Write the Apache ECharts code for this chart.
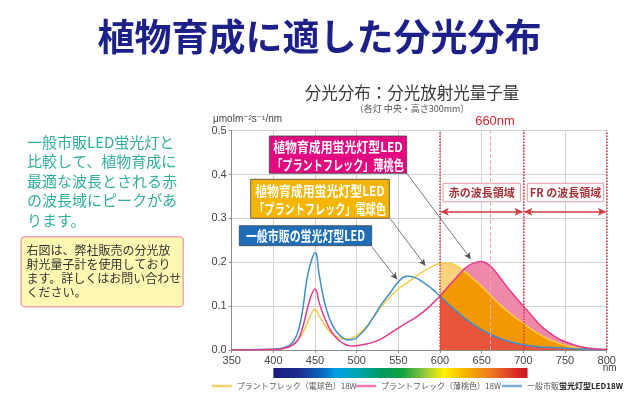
<!DOCTYPE html>
<html><head><meta charset="utf-8">
<script src="https://cdn.jsdelivr.net/npm/echarts@6/dist/echarts.min.js"></script>
<style>html,body{margin:0;padding:0;background:#fff}#c{width:639px;height:408px}</style>
</head><body><div id="c"></div>
<script>
// ---------- data ----------
const wavelengths = [350,360,370,380,390,400,410,415,420,425,430,435,440,445,450,455,460,465,470,475,480,485,490,495,500,510,520,530,540,550,560,570,580,590,600,610,620,630,640,650,660,670,680,690,700,710,720,730,740,750,760,770,780,790,800];
// プラントフレック（電球色）
const bulbColor = [0,0,0,0,0.001,0.001,0.003,0.005,0.009,0.015,0.025,0.038,0.058,0.08,0.093,0.077,0.062,0.048,0.038,0.031,0.027,0.025,0.025,0.028,0.033,0.05,0.074,0.1,0.121,0.139,0.153,0.166,0.179,0.19,0.197,0.198,0.192,0.178,0.162,0.145,0.126,0.107,0.09,0.075,0.061,0.047,0.035,0.025,0.017,0.011,0.007,0.004,0.003,0.002,0.001];
// プラントフレック（薄桃色）
const peachColor = [0,0,0,0,0.001,0.001,0.003,0.005,0.008,0.014,0.025,0.05,0.088,0.122,0.139,0.108,0.08,0.058,0.041,0.029,0.02,0.014,0.01,0.009,0.01,0.013,0.018,0.026,0.038,0.05,0.062,0.073,0.087,0.104,0.123,0.145,0.166,0.186,0.198,0.201,0.192,0.17,0.145,0.122,0.1,0.078,0.057,0.041,0.028,0.019,0.012,0.007,0.004,0.002,0.001];
// 一般市販蛍光灯型LED
const generalLED = [0,0,0,0.001,0.001,0.002,0.004,0.007,0.012,0.022,0.045,0.09,0.158,0.2,0.222,0.172,0.12,0.085,0.06,0.044,0.033,0.026,0.023,0.024,0.028,0.047,0.075,0.105,0.13,0.155,0.168,0.165,0.154,0.14,0.123,0.105,0.088,0.072,0.058,0.046,0.036,0.028,0.021,0.016,0.012,0.009,0.007,0.006,0.005,0.004,0.003,0.002,0.002,0.001,0.001];
const seriesNames = ['プラントフレック（電球色）18W','プラントフレック（薄桃色）18W','一般市販蛍光灯型LED18W'];
const redRegion = [600, 700];
const frRegion = [700, 800];
const peakLine = 660;
const xRange = [350, 800, 50];
const yRange = [0, 0.5, 0.1];
const spectrumNm = [400,430,460,475,500,530,555,580,605,630,660,690,705];
const spectrumColors = ['#1B1C80','#1B2E8E','#0B6CC0','#00A0E6','#00A5B5','#009B5E','#12A040','#8CC63F','#FFF100','#F6B300','#EE7B1F','#D9312A','#C8161E'];

// ---------- helpers ----------
const FONT = "'Noto Sans CJK JP', 'Liberation Sans', sans-serif";
const NUMFONT = "'Liberation Sans Narrow', 'Liberation Sans', Arial, sans-serif";
const pairs = (arr, from) => wavelengths.map((w, i) => [w, arr[i]]).filter(p => p[0] >= from);
const minArr = bulbColor.map((v, i) => Math.min(v, peachColor[i]));

const chart = echarts.init(document.getElementById('c'), null, {renderer: 'canvas'});

function fillSeries(arr, color) {
  return {type: 'line', data: pairs(arr, redRegion[0]), smooth: true, symbol: 'none', silent: true,
    lineStyle: {width: 0}, areaStyle: {color: color, opacity: 1}, z: 1};
}

const legendBase = {icon: 'rect', itemWidth: 20, itemHeight: 2.5, itemGap: 0, padding: 0, top: 382,
  selectedMode: false, textStyle: {fontSize: 8, color: '#555', fontFamily: FONT}};

const option = {
  animation: false,
  grid: {left: 231.7, top: 130.7, right: 32.3, bottom: 58},
  xAxis: {type: 'value', min: xRange[0], max: xRange[1], interval: xRange[2],
    axisLine: {lineStyle: {color: '#8c8c8c'}}, axisTick: {show: true, length: 3, lineStyle: {color: '#8c8c8c'}},
    axisLabel: {fontSize: 11, color: '#444', margin: 5, fontFamily: NUMFONT},
    splitLine: {show: true, lineStyle: {color: '#d2d2d2'}}},
  yAxis: {type: 'value', min: yRange[0], max: yRange[1], interval: yRange[2],
    axisLine: {show: true, lineStyle: {color: '#8c8c8c'}}, axisTick: {show: true, length: 3, lineStyle: {color: '#8c8c8c'}},
    axisLabel: {fontSize: 11, color: '#444', margin: 5, fontFamily: NUMFONT, formatter: v => v.toFixed(1)},
    splitLine: {show: true, lineStyle: {color: '#d2d2d2'}}},
  legend: [
    Object.assign({}, legendBase, {left: 211.7, data: [{name: seriesNames[0], itemStyle: {color: '#F8D16A'}}]}),
    Object.assign({}, legendBase, {left: 356, data: [{name: seriesNames[1], itemStyle: {color: '#EE79B3'}}]}),
    Object.assign({}, legendBase, {left: 502, data: [{name: seriesNames[2], itemStyle: {color: '#79ACDB'}}],
      formatter: () => '{a|一般市販}{b|蛍光灯型LED18W}',
      textStyle: {fontSize: 8, color: '#555', fontFamily: FONT,
        rich: {a: {fontSize: 8, color: '#555', fontFamily: FONT}, b: {fontSize: 8, color: '#222', fontWeight: 'bold', fontFamily: FONT}}}})
  ],
  series: [
    fillSeries(bulbColor, '#FBD27E'),
    fillSeries(peachColor, '#EE89AA'),
    fillSeries(minArr, '#F39800'),
    fillSeries(generalLED, '#E8553A'),
    {name: seriesNames[0], type: 'line', data: pairs(bulbColor, 0), smooth: true, symbol: 'none',
      lineStyle: {width: 1.5, color: '#F9CC45'}, itemStyle: {color: '#F9CC45'}, z: 3},
    {name: seriesNames[2], type: 'line', data: pairs(generalLED, 0), smooth: true, symbol: 'none',
      lineStyle: {width: 1.5, color: '#3D8FD1'}, itemStyle: {color: '#3D8FD1'}, z: 3},
    {name: seriesNames[1], type: 'line', data: pairs(peachColor, 0), smooth: true, symbol: 'none',
      lineStyle: {width: 1.5, color: '#E6398B'}, itemStyle: {color: '#E6398B'}, z: 4,
      markLine: {silent: true, symbol: ['none', 'none'], label: {show: false}, animation: false,
        data: [
          {xAxis: redRegion[0], lineStyle: {color: '#D4343E', type: 'dotted', width: 1.5}},
          {xAxis: redRegion[1], lineStyle: {color: '#D4343E', type: 'dotted', width: 1.5}},
          {xAxis: frRegion[1], lineStyle: {color: '#D4343E', type: 'dotted', width: 1.5}},
          {xAxis: peakLine, lineStyle: {color: '#F3A9B2', type: 'dashed', width: 1}},
          [{coord: [redRegion[0] + 1, 0.315], symbol: 'arrow', symbolSize: [6, 8], lineStyle: {color: '#D23C44', type: 'solid', width: 1.5}},
           {coord: [redRegion[1] - 1, 0.315], symbol: 'arrow', symbolSize: [6, 8]}],
          [{coord: [frRegion[0] + 1, 0.315], symbol: 'arrow', symbolSize: [6, 8], lineStyle: {color: '#D23C44', type: 'solid', width: 1.5}},
           {coord: [frRegion[1] - 1, 0.315], symbol: 'arrow', symbolSize: [6, 8]}],
          [{coord: [518, 0.2355], symbol: 'none', lineStyle: {color: '#555', type: 'solid', width: 0.8}},
           {coord: [548.5, 0.161], symbol: 'arrow', symbolSize: [5, 7]}],
          [{coord: [540, 0.300], symbol: 'none', lineStyle: {color: '#555', type: 'solid', width: 0.8}},
           {coord: [582.5, 0.192], symbol: 'arrow', symbolSize: [5, 7]}],
          [{coord: [560, 0.403], symbol: 'none', lineStyle: {color: '#555', type: 'solid', width: 0.8}},
           {coord: [637, 0.207], symbol: 'arrow', symbolSize: [5, 7]}]
        ]}}
  ]
};
chart.setOption(option);

const P = (x, y) => chart.convertToPixel({gridIndex: 0}, [x, y]);
const barX0 = P(spectrumNm[0], 0)[0], barX1 = P(spectrumNm[spectrumNm.length - 1], 0)[0];
const span = spectrumNm[spectrumNm.length - 1] - spectrumNm[0];
const x600 = P(redRegion[0], 0)[0], x700 = P(redRegion[1], 0)[0], x800 = P(frRegion[1], 0)[0];

function box(x, y, w, h, fill, stroke, lines, cfg) {
  const els = [{type: 'rect', shape: {x: x, y: y, width: w, height: h, r: cfg.r || 0},
    style: {fill: fill, stroke: stroke, lineWidth: cfg.lw || 1}, z: 10}];
  lines.forEach((t, i) => {
    const sx = Array.isArray(cfg.sx) ? cfg.sx[i] : (cfg.sx || 1);
    els.push({type: 'text', x: x + w / 2, y: y + cfg.first + i * cfg.lh, scaleX: sx, z: 11,
      style: {text: t, fill: cfg.color, fontSize: cfg.fs, fontWeight: cfg.fw || 'normal', fontFamily: FONT,
        textAlign: 'center', textVerticalAlign: 'middle'}});
  });
  return els;
}

let graphics = [
  {type: 'text', left: 'center', top: 18, style: {text: '植物育成に適した分光分布', fill: '#1D2088', fontSize: 37, fontWeight: 'bold', fontFamily: FONT}},
  {type: 'text', x: 412, y: 93, style: {text: '分光分布：分光放射光量子量', fill: '#3a3a3a', fontSize: 16.5, fontFamily: FONT, textAlign: 'center', textVerticalAlign: 'middle'}},
  {type: 'text', x: 412, y: 108.5, style: {text: '（各灯 中央・高さ300mm）', fill: '#555', fontSize: 9, fontFamily: FONT, textAlign: 'center', textVerticalAlign: 'middle'}},
  {type: 'text', x: 213, y: 119.5, style: {text: 'μmolm⁻²s⁻¹/nm', fill: '#444', fontSize: 10, fontFamily: "'Liberation Sans', 'DejaVu Sans', sans-serif", textVerticalAlign: 'middle'}},
  {type: 'text', x: P(peakLine, 0)[0] + 5, y: 121.5, style: {text: '660nm', fill: '#D7282F', fontSize: 13, fontFamily: "'Liberation Sans', sans-serif", textAlign: 'center', textVerticalAlign: 'middle'}},
  {type: 'text', x: x800 + 3, y: 368.5, style: {text: 'nm', fill: '#444', fontSize: 10, fontFamily: NUMFONT, textAlign: 'center', textVerticalAlign: 'middle'}},
  {type: 'text', x: 27, y: 132, style: {text: '一般市販LED蛍光灯と\n比較して、植物育成に\n最適な波長とされる赤\nの波長域にピークがあ\nります。', fill: '#30AE9B', fontSize: 15, lineHeight: 19.6, fontFamily: FONT}},
  {type: 'rect', shape: {x: 21, y: 236.7, width: 162.3, height: 70, r: 4}, style: {fill: '#FFF8B2', stroke: '#F2A3B6', lineWidth: 1.5}},
  {type: 'text', x: 26.5, y: 243, style: {text: '右図は、弊社販売の分光放\n射光量子計を使用しており\nます。詳しくはお問い合わせ\nください。', fill: '#333', fontSize: 12, lineHeight: 14, fontFamily: FONT}},
  {type: 'rect', shape: {x: barX0, y: 368, width: barX1 - barX0, height: 10},
    style: {fill: {type: 'linear', x: 0, y: 0, x2: 1, y2: 0, global: false,
      colorStops: spectrumNm.map((nm, i) => ({offset: (nm - spectrumNm[0]) / span, color: spectrumColors[i]}))}}}
];
graphics = graphics
  .concat(box(x600 + 3, 183.3, x700 - x600 - 6, 18.4, '#fff', '#E79AA3', ['赤の波長領域'], {first: 9.2, lh: 0, color: '#A8323A', fs: 11, fw: 'bold'}))
  .concat(box(x700 + 4, 183.3, x800 - x700 - 7, 18.4, '#fff', '#E79AA3', ['FR の波長領域'], {first: 9.2, lh: 0, color: '#A8323A', fs: 11, fw: 'bold'}))
  .concat(box(269.3, 136, 137.4, 37.3, '#E3087F', '#444', ['植物育成用蛍光灯型LED', '「プラントフレック」薄桃色'], {first: 10.5, lh: 18, color: '#fff', fs: 13.5, fw: 'bold', sx: [0.88, 0.75], lw: 0.8}))
  .concat(box(250.7, 179.3, 138.6, 39, '#F5B500', '#444', ['植物育成用蛍光灯型LED', '「プラントフレック」電球色'], {first: 11.5, lh: 18.5, color: '#fff', fs: 13.5, fw: 'bold', sx: [0.88, 0.75], lw: 0.8}))
  .concat(box(239.3, 225.7, 132.4, 20, '#1E6DB6', '#444', ['一般市販の蛍光灯型LED'], {first: 10, lh: 0, color: '#fff', fs: 14, fw: 'bold', sx: 0.78, lw: 0.8}));

chart.setOption({graphic: graphics});
</script></body></html>
